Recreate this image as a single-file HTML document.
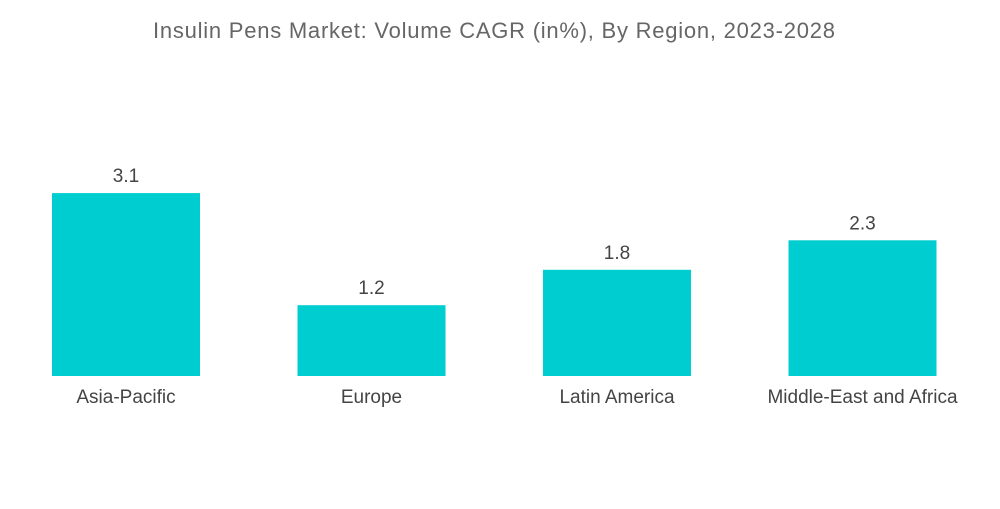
<!DOCTYPE html>
<html><head><meta charset="utf-8"><style>
body{margin:0;background:#fff;}
svg text{font-family:"Liberation Sans",sans-serif;}
</style></head><body>
<svg width="1000" height="504">
<text x="494" y="38" text-anchor="middle" font-size="22" textLength="682" fill="#666">Insulin Pens Market: Volume CAGR (in%),  By Region,  2023-2028</text>
<g id="bars"></g>
</svg>
<script>
const categories=["Asia-Pacific","Europe","Latin America","Middle-East and Africa"];
const values=[3.1,1.2,1.8,2.3];
const valueLabels=["3.1","1.2","1.8","2.3"];
const base=376, scale=59, x0=52, step=245.5, bw=148;
const y=v=>base-v*scale, x=i=>x0+i*step;
const g=document.getElementById('bars');
const ns="http://www.w3.org/2000/svg";
categories.forEach((c,i)=>{
  const r=document.createElementNS(ns,'rect');
  r.setAttribute('x',x(i));r.setAttribute('y',y(values[i]));
  r.setAttribute('width',bw);r.setAttribute('height',base-y(values[i]));
  r.setAttribute('fill','#00cdd0');
  
  
  g.appendChild(r);
  const t=document.createElementNS(ns,'text');
  t.setAttribute('x',x(i)+bw/2);t.setAttribute('y',y(values[i])-11);
  t.setAttribute('text-anchor','middle');t.setAttribute('font-size','19');t.setAttribute('fill','#444');
  t.textContent=valueLabels[i];
  
  
  g.appendChild(t);
  const l=document.createElementNS(ns,'text');
  l.setAttribute('x',x(i)+bw/2);l.setAttribute('y',403);
  l.setAttribute('text-anchor','middle');l.setAttribute('font-size','19');l.setAttribute('fill','#444');
  l.textContent=c;
  
  
  g.appendChild(l);
});
</script>
</body></html>
